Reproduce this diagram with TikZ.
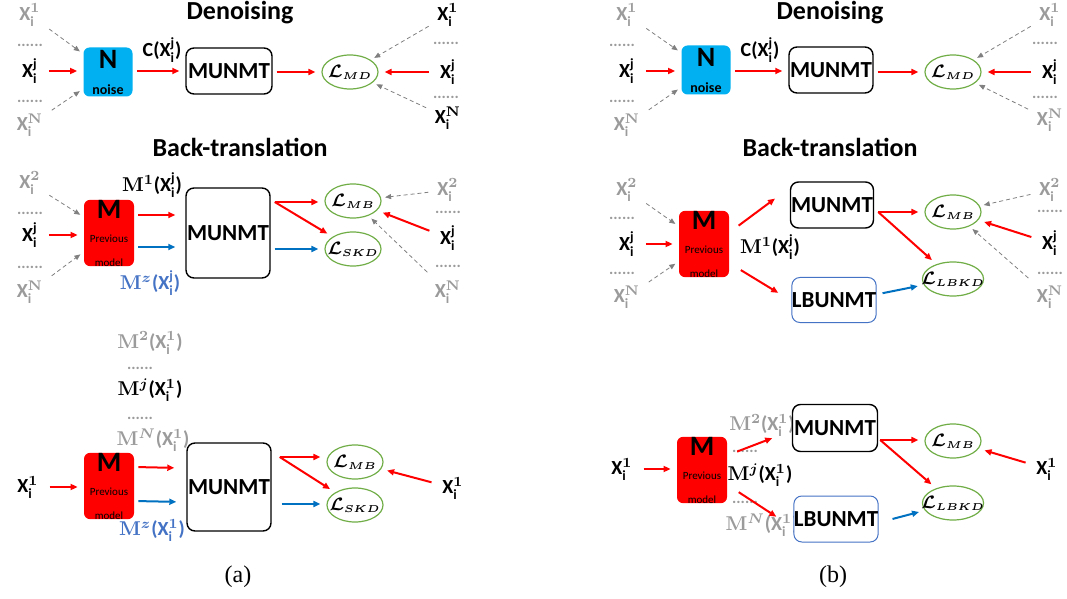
\documentclass[tikz,border=0pt]{standalone}
\usepackage{amsmath,bm}
\usepackage[no-math]{fontspec}
\setmainfont{Carlito}
\newfontfamily\capfont{Liberation Serif}
\usetikzlibrary{arrows.meta,calc,shapes.geometric}

\definecolor{nblue}{RGB}{0,176,240}
\definecolor{kdblue}{RGB}{0,112,192}
\definecolor{lblue}{RGB}{68,114,196}
\definecolor{lgreen}{RGB}{112,173,71}
\definecolor{lgray}{RGB}{155,155,155}
\definecolor{dgray}{RGB}{128,128,128}

\newcommand{\xin}[1]{\textbf{X}$_{\text{\bfseries i}}^{#1}$}
\newcommand{\sj}{\text{\bfseries j}}
\newcommand{\mof}[2]{$\mathbf{M}^{#1}$\textbf{(}\xin{#2}\textbf{)}}
\newcommand{\lossl}[1]{{\boldmath$\bm{\mathcal{L}}_{\mbox{\fontsize{5.5}{6}\selectfont$\bm{#1}$}}$}}

\begin{document}
\begin{tikzpicture}[x=0.5pt,y=-0.5pt,
    inp/.style={font=\fontsize{10}{12}\selectfont},
    ginp/.style={inp,text=lgray},
    dotrow/.style={text=lgray,font=\fontsize{8}{8}\selectfont\bfseries,inner sep=0pt},
    ttl/.style={font=\fontsize{13}{15}\selectfont\bfseries},
    noisebox/.style={fill=nblue,rounded corners=3pt,minimum width=24.5pt,minimum height=24.5pt,inner sep=0pt,align=center},
    prevbox/.style={fill=red,rounded corners=3pt,minimum width=25pt,minimum height=25pt,inner sep=0pt,align=center},
    unmt/.style={draw,rounded corners=4pt,line width=0.7pt,fill=white,inner sep=0pt,font=\fontsize{11.5}{13}\selectfont\bfseries},
    lbunmt/.style={unmt,draw=lblue,line width=0.5pt},
    loss/.style={ellipse,draw=lgreen,line width=0.6pt,inner xsep=-5pt,inner ysep=0pt,minimum width=28pt,minimum height=17pt,font=\fontsize{9.5}{11}\selectfont},
    lossw/.style={loss,minimum width=29.5pt},
    redarr/.style={red,line width=1pt,-{Triangle[length=3.5pt,width=3pt]},shorten <=2pt,shorten >=3pt},
    bluearr/.style={redarr,kdblue},
    garr/.style={dgray,line width=0.4pt,dash pattern=on 2pt off 1.5pt,-{Triangle[length=3pt,width=2.5pt]},shorten <=1pt,shorten >=2pt}]
\useasboundingbox (0,0) rectangle (1067,599);

% ---------- (a) denoising
\node[ttl] (aden) at (240,13) {Denoising};
\node[ginp] (a1) at (30,15) {\xin{\mathbf{1}}};
\node[dotrow] (ad1) at (30,45) {......};
\node[inp] (aj) at (30,71) {\xin{\sj}};
\node[dotrow] (ad2) at (30,101) {......};
\node[ginp] (aN) at (30,125) {\xin{\mathbf{N}}};
\node[noisebox] (anoise) at (108,72) {{\fontsize{14}{14}\selectfont\bfseries N}\\[1pt]{\fontsize{7}{8}\selectfont\bfseries noise}};
\draw[redarr] (aj) -- (aj -| anoise.west);
\draw[garr] (a1) -- (anoise);
\draw[garr] (aN) -- (anoise);
\node[inp] (aclab) at (162,50) {\textbf{C(}\xin{\sj}\textbf{)}};
\node[unmt,minimum width=43pt,minimum height=23pt] (amu1) at (229,71) {MUNMT};
\draw[redarr] (anoise.east |- aj) -- (amu1.west |- aj);
\node[loss] (amd) at (350,72) {\lossl{MD}};
\draw[redarr] (amu1.east |- amd) -- (amd);
\node[inp] (ar1) at (448,15) {\xin{\mathbf{1}}};
\node[dotrow] (ard1) at (446,43) {......};
\node[inp] (arj) at (448,72) {\xin{\sj}};
\node[dotrow] (ard2) at (446,97) {......};
\node[inp] (arN) at (448,118) {\xin{\mathbf{N}}};
\draw[redarr,line width=1.3pt] (arj) -- (amd);
\draw[garr] (ar1) -- (amd);
\draw[garr] (arN) -- (amd);

% ---------- (a) back-translation
\node[ttl] (aback) at (240,147) {Back-translation};
\node[ginp] (ab2) at (30,183) {\xin{\mathbf{2}}};
\node[dotrow] (abd1) at (30,213) {......};
\node[inp] (abj) at (30,235) {\xin{\sj}};
\node[dotrow] (abd2) at (30,267) {......};
\node[ginp] (abN) at (30,292) {\xin{\mathbf{N}}};
\node[prevbox] (aprev) at (109,233) {{\fontsize{14}{14}\selectfont\bfseries M}\\{\fontsize{5.5}{6.5}\selectfont Previous}\\{\fontsize{5.5}{6.5}\selectfont model}};
\draw[redarr] (abj) -- (abj -| aprev.west);
\draw[garr] (ab2) -- (aprev);
\draw[garr] (abN) -- (aprev);
\node[inp] (am1lab) at (152,185) {\mof{\mathbf{1}}{\sj}};
\node[unmt,minimum width=42pt,minimum height=45pt] (amu2) at (228,233) {MUNMT};
\draw[redarr] ($(aprev.east)+(0,-18)$) -- ($(amu2.west)+(-4,-18)$);
\draw[bluearr] ($(aprev.east)+(0,14)$) -- ($(amu2.west)+(-4,14)$);
\node[inp,text=lblue] (amzlab) at (150,283) {\mof{\bm{z}}{\sj}};
\node[loss] (amb) at (353,201) {\lossl{MB}};
\node[loss] (ask) at (353,249) {\lossl{SKD}};
\coordinate (abr) at ($(amu2.east)+(4,-31)$);
\draw[redarr,shorten <=0pt] (abr) -- (amb.west |- abr);
\draw[redarr,shorten <=0pt] (abr) -- (ask);
\draw[bluearr] ($(amu2.east)+(0,16)$) -- (ask.west |- {$(amu2.east)+(0,16)$});
\node[ginp] (arb2) at (448,190) {\xin{\mathbf{2}}};
\node[dotrow] (arbd1) at (448,212) {......};
\node[inp] (arbj) at (448,238) {\xin{\sj}};
\node[dotrow] (arbd2) at (448,266) {......};
\node[ginp] (arbN) at (448,292) {\xin{\mathbf{N}}};
\draw[garr] (arb2) -- (amb);
\draw[redarr] (arbj) -- (amb);
\draw[garr] (arbN) -- (amb);

% ---------- (a) many outputs
\node[inp,text=lgray] (am2lab) at (150,343) {\mof{\mathbf{2}}{\mathbf{1}}};
\node[dotrow] (amd1) at (140,368) {......};
\node[inp] (amjlab) at (150,390) {\mof{\bm{j}}{\mathbf{1}}};
\node[dotrow] (amd2) at (140,418) {......};
\node[inp,text=lgray] (amnlab) at (153,440) {\mof{\bm{N}}{\mathbf{1}}};
\node[inp] (ax1) at (28,487) {\xin{\mathbf{1}}};
\node[prevbox] (aprev2) at (109,486) {{\fontsize{14}{14}\selectfont\bfseries M}\\{\fontsize{5.5}{6.5}\selectfont Previous}\\{\fontsize{5.5}{6.5}\selectfont model}};
\draw[redarr] (ax1) -- (ax1 -| aprev2.west);
\node[unmt,minimum width=42pt,minimum height=44pt] (amu3) at (229,487) {MUNMT};
\draw[redarr] ($(aprev2.east)+(0,-19)$) -- ($(amu3.west)+(-6,-19)$);
\draw[bluearr] ($(aprev2.east)+(0,15)$) -- ($(amu3.west)+(-4,15)$);
\node[inp,text=lblue] (amz2lab) at (152,530) {\mof{\bm{z}}{\mathbf{1}}};
\node[loss] (amb2) at (355,462) {\lossl{MB}};
\node[loss] (ask2) at (355,505) {\lossl{SKD}};
\coordinate (abr2) at ($(amu3.east)+(8,-30)$);
\draw[redarr,shorten <=0pt] (abr2) -- (amb2.west |- abr2);
\draw[redarr,shorten <=0pt] (abr2) -- (ask2);
\draw[bluearr] ($(amu3.east)+(6,17)$) -- (ask2.west |- {$(amu3.east)+(6,17)$});
\node[inp] (ax1r) at (453,488) {\xin{\mathbf{1}}};
\draw[redarr] (ax1r) -- (amb2);
\node[font=\capfont\fontsize{12}{14}\selectfont] (acap) at (238,577) {(a)};

% ---------- (b) denoising
\node[ttl] (bden) at (830,13) {Denoising};
\node[ginp] (b1) at (627,15) {\xin{\mathbf{1}}};
\node[dotrow] (bd1) at (622,45) {......};
\node[inp] (bj) at (627,71) {\xin{\sj}};
\node[dotrow] (bd2) at (622,101) {......};
\node[ginp] (bN) at (627,125) {\xin{\mathbf{N}}};
\node[noisebox] (bnoise) at (706,70) {{\fontsize{14}{14}\selectfont\bfseries N}\\[1pt]{\fontsize{7}{8}\selectfont\bfseries noise}};
\draw[redarr] (bj) -- (bj -| bnoise.west);
\draw[garr] (b1) -- (bnoise);
\draw[garr] (bN) -- (bnoise);
\node[inp] (bclab) at (760,50) {\textbf{C(}\xin{\sj}\textbf{)}};
\node[unmt,minimum width=42pt,minimum height=23pt] (bmu1) at (831,70) {MUNMT};
\draw[redarr] (bnoise.east |- bj) -- (bmu1.west |- bj);
\node[loss] (bmd) at (953,72) {\lossl{MD}};
\draw[redarr] (bmu1.east |- bmd) -- (bmd);
\node[ginp] (br1) at (1050,15) {\xin{\mathbf{1}}};
\node[dotrow] (brd1) at (1045,43) {......};
\node[inp] (brj) at (1050,72) {\xin{\sj}};
\node[dotrow] (brd2) at (1045,97) {......};
\node[ginp] (brN) at (1050,120) {\xin{\mathbf{N}}};
\draw[redarr,line width=1.3pt] (brj) -- (bmd);
\draw[garr] (br1) -- (bmd);
\draw[garr] (brN) -- (bmd);

% ---------- (b) back-translation
\node[ttl] (bback) at (830,147) {Back-translation};
\node[ginp] (bb2) at (627,190) {\xin{\mathbf{2}}};
\node[dotrow] (bbd1) at (622,218) {......};
\node[inp] (bbj) at (627,244) {\xin{\sj}};
\node[dotrow] (bbd2) at (622,273) {......};
\node[ginp] (bbN) at (627,297) {\xin{\mathbf{N}}};
\node[prevbox] (bprev) at (704,244) {{\fontsize{14}{14}\selectfont\bfseries M}\\{\fontsize{5.5}{6.5}\selectfont Previous}\\{\fontsize{5.5}{6.5}\selectfont model}};
\draw[redarr] (bbj) -- (bbj -| bprev.west);
\draw[garr] (bb2) -- (bprev);
\draw[garr] (bbN) -- (bprev);
\node[inp] (bm1lab) at (770,247) {\mof{\mathbf{1}}{\sj}};
\node[unmt,minimum width=41.5pt,minimum height=23pt] (bmu2) at (832,205) {MUNMT};
\node[lbunmt,minimum width=42pt,minimum height=22.5pt] (blb) at (834,300) {LBUNMT};
\draw[redarr] ($(bprev.east)+(6,-16)$) -- ($(bmu2.west)+(-10,-10)$);
\draw[redarr] ($(bprev.east)+(8,24)$) -- ($(blb.west)+(-8,-4)$);
\node[loss] (bmb) at (953,212) {\lossl{MB}};
\node[lossw] (blk) at (953,279) {\lossl{LBKD}};
\coordinate (bbr) at ($(bmu2.east)+(4,7)$);
\draw[redarr,shorten <=0pt] (bbr) -- (bmb.west |- bbr);
\draw[redarr,shorten <=0pt] (bbr) -- (blk);
\draw[bluearr] ($(blb.east)+(2,-6)$) -- (blk);
\node[ginp] (brb2) at (1050,190) {\xin{\mathbf{2}}};
\node[dotrow] (brbd1) at (1050,211) {......};
\node[inp] (brbj) at (1050,243) {\xin{\sj}};
\node[dotrow] (brbd2) at (1050,273) {......};
\node[ginp] (brbN) at (1050,297) {\xin{\mathbf{N}}};
\draw[garr] (brb2) -- (bmb);
\draw[redarr] (brbj) -- (bmb);
\draw[garr] (brbN) -- (bmb);

% ---------- (b) many outputs
\node[inp,text=lgray] (bm2lab) at (762,425) {\mof{\mathbf{2}}{\mathbf{1}}};
\node[dotrow] (bmd1) at (745,451) {......};
\node[inp] (bmjlab) at (760,475) {\mof{\bm{j}}{\mathbf{1}}};
\node[dotrow] (bmd2) at (745,502) {......};
\node[inp,text=lgray] (bmnlab) at (762,525) {\mof{\bm{N}}{\mathbf{1}}};
\node[inp] (bx1) at (622,469) {\xin{\mathbf{1}}};
\node[prevbox] (bprev2) at (702,470) {{\fontsize{14}{14}\selectfont\bfseries M}\\{\fontsize{5.5}{6.5}\selectfont Previous}\\{\fontsize{5.5}{6.5}\selectfont model}};
\draw[redarr] (bx1) -- (bx1 -| bprev2.west);
\node[unmt,minimum width=42.5pt,minimum height=23.5pt] (bmu3) at (835,428) {MUNMT};
\node[lbunmt,minimum width=42pt,minimum height=23pt] (blb2) at (836,519) {LBUNMT};
\draw[redarr] ($(bprev2.east)+(6,-17)$) -- ($(bmu3.west)+(-14,8)$);
\draw[redarr] ($(bprev2.east)+(8,20)$) -- ($(blb2.west)+(-12,1)$);
\node[loss] (bmb2) at (953,441) {\lossl{MB}};
\node[lossw] (blk2) at (953,503) {\lossl{LBKD}};
\coordinate (bbr2) at ($(bmu3.east)+(2,12)$);
\draw[redarr,shorten <=0pt] (bbr2) -- (bmb2.west |- bbr2);
\draw[redarr,shorten <=0pt] (bbr2) -- (blk2);
\draw[bluearr] ($(blb2.east)+(10,1)$) -- (blk2);
\node[inp] (bx1r) at (1047,469) {\xin{\mathbf{1}}};
\draw[redarr] (bx1r) -- (bmb2);
\node[font=\capfont\fontsize{12}{14}\selectfont] (bcap) at (833,577) {(b)};
\end{tikzpicture}
\end{document}
